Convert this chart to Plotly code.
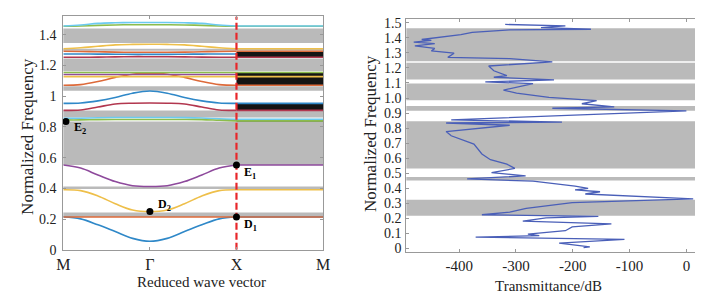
import plotly.graph_objects as go

# ---------------- data: left panel (band structure) ----------------
k_path = [0, 0.2, 0.4, 0.6, 0.8, 1.0, 1.2, 1.4, 1.6, 1.8, 2.0]
k_flat = [2, 3]
k_ticks = [0, 1, 2, 3]
k_labels = ["M", "Γ", "X", "M"]

band_blue1 = [0.213, 0.201, 0.162, 0.118, 0.074, 0.055, 0.074, 0.118, 0.162, 0.201, 0.213]
band_orange1 = [0.213, 0.213, 0.213, 0.213, 0.213, 0.213, 0.213, 0.213, 0.213, 0.213, 0.213]
band_yellow1 = [0.391, 0.385, 0.350, 0.300, 0.259, 0.249, 0.259, 0.300, 0.350, 0.385, 0.391]
band_purple1 = [0.552, 0.532, 0.487, 0.444, 0.417, 0.412, 0.417, 0.444, 0.487, 0.532, 0.552]
band_green1 = [0.846, 0.846, 0.848, 0.849, 0.849, 0.849, 0.849, 0.849, 0.848, 0.844, 0.840]
band_cyan1 = [0.856, 0.857, 0.860, 0.862, 0.862, 0.862, 0.862, 0.861, 0.858, 0.853, 0.850]
band_red1 = [0.908, 0.911, 0.930, 0.950, 0.955, 0.956, 0.955, 0.950, 0.930, 0.911, 0.908]
band_blue2 = [0.954, 0.956, 0.970, 0.992, 1.020, 1.034, 1.020, 0.992, 0.970, 0.956, 0.954]
band_orange2 = [1.072, 1.076, 1.096, 1.123, 1.144, 1.149, 1.144, 1.123, 1.096, 1.076, 1.072]
band_yellow2 = [1.128, 1.128, 1.128, 1.128, 1.128, 1.128, 1.128, 1.128, 1.128, 1.128, 1.128]
band_purple2 = [1.142, 1.142, 1.142, 1.142, 1.142, 1.142, 1.142, 1.142, 1.142, 1.142, 1.142]
band_green2 = [1.155, 1.155, 1.155, 1.155, 1.155, 1.155, 1.155, 1.155, 1.155, 1.155, 1.155]
band_red2 = [1.254, 1.254, 1.255, 1.257, 1.258, 1.258, 1.258, 1.257, 1.255, 1.254, 1.254]
band_blue3 = [1.276, 1.276, 1.275, 1.274, 1.273, 1.273, 1.273, 1.274, 1.275, 1.276, 1.276]
band_orange3 = [1.293, 1.292, 1.290, 1.288, 1.287, 1.287, 1.287, 1.288, 1.290, 1.292, 1.293]
band_yellow3 = [1.310, 1.316, 1.326, 1.335, 1.338, 1.339, 1.338, 1.335, 1.326, 1.316, 1.310]
band_green3 = [1.456, 1.458, 1.462, 1.465, 1.466, 1.466, 1.466, 1.465, 1.462, 1.458, 1.456]
band_cyan3 = [1.458, 1.464, 1.475, 1.479, 1.481, 1.481, 1.481, 1.479, 1.475, 1.464, 1.458]

gap_lo = [0.213, 0.395, 0.552, 0.862, 1.036, 1.163, 1.296, 1.348]
gap_hi = [0.243, 0.412, 0.835, 0.908, 1.065, 1.247, 1.309, 1.442]

dense_lo = [0.836, 0.908, 1.072, 1.254]
dense_hi = [0.850, 0.954, 1.155, 1.291]

point_names = ["E<sub>2</sub>", "D<sub>2</sub>", "D<sub>1</sub>", "E<sub>1</sub>"]
point_k = [0.03, 1.0, 2.0, 2.0]
point_f = [0.836, 0.249, 0.213, 0.552]

# ---------------- data: right panel (transmittance) ----------------
trans_db = [-319, -213, -256, -168, -311, -377, -397, -466, -449, -480, -443, -478,
            -443, -449, -409, -420, -311, -236, -348, -339, -316, -339, -233, -354,
            -270, -322, -299, -242, -158, -184, -127, -236, 0, -414, -219, -423,
            -311, -423, -414, -388, -374, -360, -345, -316, -302, -343, -283, -386,
            -270, -196, -173, -196, -152, -178, -98, 12, -60, -130, -201, -282,
            -311, -360, -155, -247, -288, -132, -201, -213, -279, -259, -371, -109,
            -224, -170, -181]
trans_f = [1.489, 1.479, 1.468, 1.457, 1.453, 1.436, 1.421, 1.389, 1.383, 1.372, 1.362, 1.347,
           1.330, 1.313, 1.298, 1.270, 1.262, 1.240, 1.213, 1.181, 1.149, 1.138, 1.121, 1.107,
           1.096, 1.053, 1.032, 1.004, 0.983, 0.962, 0.941, 0.932, 0.915, 0.855, 0.840, 0.834,
           0.819, 0.777, 0.749, 0.715, 0.694, 0.628, 0.590, 0.560, 0.532, 0.504, 0.483, 0.462,
           0.447, 0.415, 0.400, 0.389, 0.377, 0.362, 0.347, 0.330, 0.322, 0.313, 0.305, 0.267,
           0.241, 0.224, 0.214, 0.203, 0.182, 0.164, 0.143, 0.118, 0.096, 0.086, 0.075, 0.060,
           0.036, 0.011, 0.006]

rgap_lo = [0.217, 0.451, 0.532, 0.915, 0.985, 1.123, 1.245]
rgap_hi = [0.324, 0.475, 0.845, 0.947, 1.096, 1.234, 1.464]

r_ytick_vals = [0, 0.1, 0.2, 0.3, 0.4, 0.5, 0.6, 0.7, 0.8, 0.9, 1.0, 1.1, 1.2, 1.3, 1.4, 1.5]
r_ytick_text = ["0", "0.1", "0.2", "0.3", "0.4", "0.5", "0.6", "0.7", "0.8", "0.9",
                "1.0", "1.1", "1.2", "1.3", "1.4", "1.5"]
r_xtick_vals = [-400, -300, -200, -100, 0]
r_xtick_text = ["-400", "-300", "-200", "-100", "0"]
l_ytick_vals = [0, 0.2, 0.4, 0.6, 0.8, 1.0, 1.2, 1.4]
l_ytick_text = ["0", "0.2", "0.4", "0.6", "0.8", "1", "1.2", "1.4"]

# ---------------- styling ----------------
C_BLUE = "#2f88c8"
C_ORANGE = "#dd6a3a"
C_YELLOW = "#eebf4a"
C_PURPLE = "#8e4a9c"
C_GREEN = "#8cbc4c"
C_CYAN = "#6ccaf0"
C_RED = "#b2374f"
GREY = "#bababa"
FONT = "Liberation Serif"

W, H = 703, 294
L_X0, L_X1, L_Y0, L_Y1 = 49.3, 314.3, 248.0, 5.7
R_X0, R_X1, R_Y0, R_Y1 = 399.3, 698.0, 250.5, 8.3

fig = go.Figure()

# band list: (values, color, draw flat X->M part)
bands = [
    (band_blue1, C_BLUE, True), (band_orange1, C_ORANGE, True),
    (band_yellow1, C_YELLOW, True), (band_purple1, C_PURPLE, True),
    (band_cyan1, C_CYAN, True), (band_green1, C_GREEN, True),
    (band_red1, C_RED, True), (band_blue2, C_BLUE, True),
    (band_orange2, C_ORANGE, True), (band_purple2, C_PURPLE, False),
    (band_yellow2, C_YELLOW, True), (band_green2, C_GREEN, True),
    (band_blue3, C_BLUE, False), (band_red2, C_RED, True),
    (band_orange3, C_ORANGE, True), (band_yellow3, C_YELLOW, True),
    (band_green3, C_GREEN, True), (band_cyan3, C_CYAN, True),
]
for vals, col, flat in bands:
    fig.add_trace(go.Scatter(x=k_path, y=vals, mode="lines", line=dict(color=col, width=1.6, shape="spline"),
                             xaxis="x", yaxis="y", showlegend=False, hoverinfo="skip"))
    if flat:
        fig.add_trace(go.Scatter(x=k_flat, y=[vals[-1], vals[-1]], mode="lines",
                                 line=dict(color=col, width=1.6), xaxis="x", yaxis="y",
                                 showlegend=False, hoverinfo="skip"))

# red dashed line at X
fig.add_trace(go.Scatter(x=[k_ticks[2], k_ticks[2]], y=[0, 1.52], mode="lines",
                         line=dict(color="#e8262a", width=2.2, dash="7px,3px"),
                         xaxis="x", yaxis="y", showlegend=False, hoverinfo="skip"))
# points
fig.add_trace(go.Scatter(x=point_k, y=point_f, mode="markers", cliponaxis=False,
                         marker=dict(color="black", size=7), xaxis="x", yaxis="y",
                         showlegend=False, hoverinfo="skip"))

# transmittance curve
fig.add_trace(go.Scatter(x=trans_db, y=trans_f, mode="lines",
                         line=dict(color="#4a5fb8", width=1.3),
                         xaxis="x2", yaxis="y2", showlegend=False, hoverinfo="skip"))

shapes = []
for lo, hi in zip(gap_lo, gap_hi):
    shapes.append(dict(type="rect", xref="x domain", yref="y", x0=0, x1=1, y0=lo, y1=hi,
                       fillcolor=GREY, line=dict(width=0), layer="below"))
for lo, hi in zip(dense_lo, dense_hi):
    shapes.append(dict(type="rect", xref="x", yref="y", x0=k_ticks[2], x1=k_ticks[3], y0=lo, y1=hi,
                       fillcolor="#141414", line=dict(width=0), layer="below"))
for lo, hi in zip(rgap_lo, rgap_hi):
    shapes.append(dict(type="rect", xref="x2 domain", yref="y2", x0=0, x1=1, y0=lo, y1=hi,
                       fillcolor=GREY, line=dict(width=0), layer="below"))

annotations = []
label_shift = [(6, -7), (6, 7), (6, -8), (6, -8)]
for name, kx, fy, (dx, dy) in zip(point_names, point_k, point_f, label_shift):
    annotations.append(dict(x=kx, y=fy, xref="x", yref="y", text="<b>" + name + "</b>",
                            showarrow=False, xanchor="left", yanchor="middle",
                            xshift=dx, yshift=dy, font=dict(family=FONT, size=12, color="black")))

def px_x(p):
    return p / W

def px_y(p):
    return 1 - p / H

title_font_x = dict(family=FONT, size=15, color="#222")
title_font_y = dict(family=FONT, size=17, color="#222")
annotations += [
    dict(x=px_x(190), y=px_y(282), xref="paper", yref="paper", text="Reduced wave vector",
         showarrow=False, xanchor="center", yanchor="middle", font=title_font_x),
    dict(x=px_x(544), y=px_y(285.5), xref="paper", yref="paper", text="Transmittance/dB",
         showarrow=False, xanchor="center", yanchor="middle", font=title_font_x),
    dict(x=px_x(12), y=px_y(130), xref="paper", yref="paper", text="Normalized Frequency",
         showarrow=False, textangle=-90, xanchor="center", yanchor="middle", font=title_font_y),
    dict(x=px_x(362), y=px_y(127), xref="paper", yref="paper", text="Normalized Frequency",
         showarrow=False, textangle=-90, xanchor="center", yanchor="middle", font=title_font_y),
]

axis_common = dict(showgrid=False, zeroline=False, showline=True, linecolor="#999999", linewidth=1,
                   mirror="ticks", ticks="inside", ticklen=3, tickcolor="#999999",
                   tickfont=dict(family=FONT, size=14, color="#222"))

fig.update_layout(
    width=W, height=H, margin=dict(l=0, r=0, t=0, b=0),
    paper_bgcolor="white", plot_bgcolor="white",
    xaxis=dict(domain=[px_x(L_X0), px_x(L_X1)], range=[0, 3], tickvals=k_ticks, ticktext=k_labels,
               anchor="y", ticklabelstandoff=0,
               **{**axis_common, "tickfont": dict(family=FONT, size=16, color="#222")}),
    yaxis=dict(domain=[px_y(L_Y0), px_y(L_Y1)], range=[0, 1.52], tickvals=l_ytick_vals,
               ticktext=l_ytick_text, anchor="x", ticklabelstandoff=3, **axis_common),
    xaxis2=dict(domain=[px_x(R_X0), px_x(R_X1)], range=[-493, 22.4], tickvals=r_xtick_vals,
                ticktext=r_xtick_text, anchor="y2", ticklabelstandoff=0,
                **{**axis_common, "tickfont": dict(family=FONT, size=15, color="#222")}),
    yaxis2=dict(domain=[px_y(R_Y0), px_y(R_Y1)], range=[-0.0243, 1.5253], tickvals=r_ytick_vals,
                ticktext=r_ytick_text, anchor="x2", ticklabelstandoff=1, **axis_common),
    shapes=shapes, annotations=annotations,
)

fig.write_html("out.html")
